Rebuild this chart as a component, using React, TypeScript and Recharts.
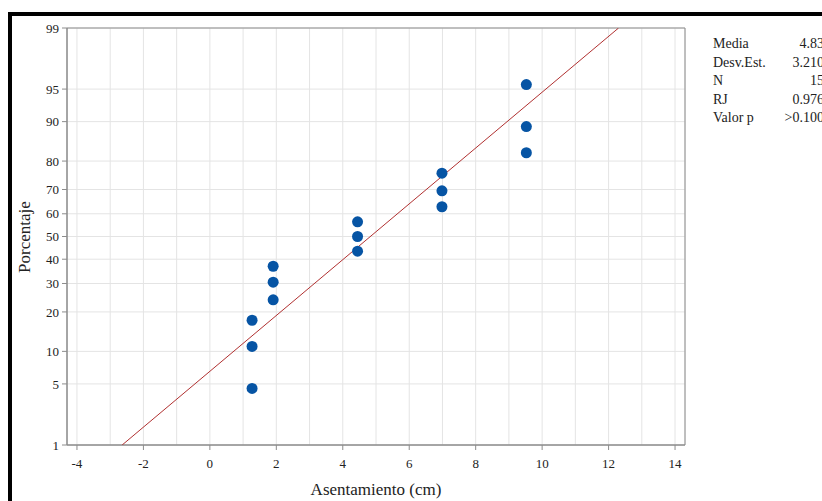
import React from 'react';
import {
  ScatterChart,
  Scatter,
  XAxis,
  YAxis,
  CartesianGrid,
  ReferenceArea,
} from 'recharts';

// settlement readings (cm) and their plotted probability (%)
const settlement = [1.27, 1.27, 1.27, 1.905, 1.905, 1.905, 4.445, 4.445, 4.445, 6.985, 6.985, 6.985, 9.525, 9.525, 9.525];
const percent = [4.5, 11.0, 17.5, 24.0, 30.5, 37.0, 43.5, 50.0, 56.5, 63.0, 69.5, 76.0, 82.5, 89.0, 95.5];

// fitted normal line, end points
const fitX = [-2.64, 12.3];
const fitPercent = [1, 99];

const xTicks = [-4, -3, -2, -1, 0, 1, 2, 3, 4, 5, 6, 7, 8, 9, 10, 11, 12, 13, 14];
const yTickPercents = [1, 5, 10, 20, 30, 40, 50, 60, 70, 80, 90, 95, 99];

const statLabels = ['Media', 'Desv.Est.', 'N', 'RJ', 'Valor p'];
const statValues = ['4.83', '3.210', '15', '0.976', '>0.100'];

const FONT = '"Liberation Serif", "Times New Roman", serif';

// inverse normal CDF (Acklam) -> probability axis
function probit(p: number): number {
  const a = [-39.69683028665376, 220.9460984245205, -275.9285104469687, 138.357751867269, -30.66479806614716, 2.506628277459239];
  const b = [-54.47609879822406, 161.5858368580409, -155.6989798598866, 66.80131188771972, -13.28068155022803];
  const c = [-0.007784894002430293, -0.3223964580411365, -2.400758277161838, -2.549732539343734, 4.374664141464968, 2.938163982698783];
  const d = [0.007784695709041462, 0.3224671290700398, 2.445134137142996, 3.754408661907416];
  const pl = 0.02425;
  if (p < pl) {
    const q = Math.sqrt(-2 * Math.log(p));
    return (((((c[0] * q + c[1]) * q + c[2]) * q + c[3]) * q + c[4]) * q + c[5]) / ((((d[0] * q + d[1]) * q + d[2]) * q + d[3]) * q + 1);
  }
  if (p > 1 - pl) {
    const q = Math.sqrt(-2 * Math.log(1 - p));
    return -(((((c[0] * q + c[1]) * q + c[2]) * q + c[3]) * q + c[4]) * q + c[5]) / ((((d[0] * q + d[1]) * q + d[2]) * q + d[3]) * q + 1);
  }
  const q = p - 0.5;
  const r = q * q;
  return ((((((a[0] * r + a[1]) * r + a[2]) * r + a[3]) * r + a[4]) * r + a[5]) * q) / (((((b[0] * r + b[1]) * r + b[2]) * r + b[3]) * r + b[4]) * r + 1);
}

const points = settlement.map((x, i) => ({ x, z: probit(percent[i] / 100) }));
const fitLine = fitX.map((x, i) => ({ x, z: probit(fitPercent[i] / 100) }));
const yTicks = yTickPercents.map((p) => probit(p / 100));
const yMin = yTicks[0];
const yMax = yTicks[yTicks.length - 1];

const AXIS_COLOR = '#8c8c8c';

// only even values get a label and a tick mark; grid uses every integer
const XTick = (props: any) => {
  const { x, y, payload } = props;
  if (payload.value % 2 !== 0) return <g />;
  return (
    <g>
      <line x1={x} x2={x} y1={y - 14} y2={y - 9} stroke={AXIS_COLOR} />
      <text x={x} y={y} dy="0.71em" textAnchor="middle" fontFamily={FONT} fontSize={13} fill="#222">
        {payload.value}
      </text>
    </g>
  );
};

const Dot = (props: any) => <circle cx={props.cx} cy={props.cy} r={5.5} fill="#0654a4" />;

export default function App() {
  return (
    <div style={{ position: 'absolute', left: 0, top: 0, width: 822, height: 501, overflow: 'hidden', background: '#fff', fontFamily: FONT }}>
      {/* black frame around the figure */}
      <div style={{ position: 'absolute', left: 8, top: 12, width: 900, height: 600, border: '4px solid #000', boxSizing: 'border-box' }} />

      <div style={{ position: 'absolute', left: 0, top: 0 }}>
        <ScatterChart width={822} height={501} margin={{ top: 28, right: 137, bottom: 26, left: 17 }}>
          <CartesianGrid stroke="#e4e4e4" />
          <XAxis
            type="number"
            dataKey="x"
            domain={[-4.3, 14.3]}
            ticks={xTicks}
            allowDataOverflow
            height={30}
            tickSize={5}
            tickMargin={9}
            tickLine={false}
            tick={<XTick />}
            stroke={AXIS_COLOR}
            interval={0}
          />
          <YAxis
            type="number"
            dataKey="z"
            domain={[yMin, yMax]}
            ticks={yTicks}
            allowDataOverflow
            width={50}
            tickSize={5}
            tickMargin={3}
            interval={0}
            tickFormatter={(_v: number, i: number) => String(yTickPercents[i])}
            tick={{ fontFamily: FONT, fontSize: 13, fill: '#222' }}
            stroke={AXIS_COLOR}
          />
          <ReferenceArea x1={-4.3} x2={14.3} y1={yMin} y2={yMax} fill="none" stroke={AXIS_COLOR} ifOverflow="visible" />
          <Scatter
            data={fitLine}
            fill="#b03030"
            line={{ stroke: '#b03030', strokeWidth: 1 }}
            shape={() => <g />}
            isAnimationActive={false}
          />
          <Scatter data={points} fill="#0654a4" shape={<Dot />} isAnimationActive={false} />
        </ScatterChart>
      </div>

      {/* axis titles */}
      <div style={{ position: 'absolute', left: 276, top: 480, width: 200, textAlign: 'center', fontSize: 17, color: '#222', lineHeight: '20px' }}>
        Asentamiento (cm)
      </div>
      <div
        style={{
          position: 'absolute',
          left: 25,
          top: 237,
          transform: 'translate(-50%, -50%) rotate(-90deg)',
          fontSize: 17,
          color: '#222',
          whiteSpace: 'nowrap',
          lineHeight: '20px',
        }}
      >
        Porcentaje
      </div>

      {/* summary statistics */}
      <div style={{ position: 'absolute', left: 713, top: 35, width: 111, fontSize: 14, color: '#222', lineHeight: '18.6px' }}>
        {statLabels.map((label, i) => (
          <div key={label} style={{ display: 'flex', justifyContent: 'space-between', whiteSpace: 'nowrap' }}>
            <span>{label}</span>
            <span>{statValues[i]}</span>
          </div>
        ))}
      </div>
    </div>
  );
}
